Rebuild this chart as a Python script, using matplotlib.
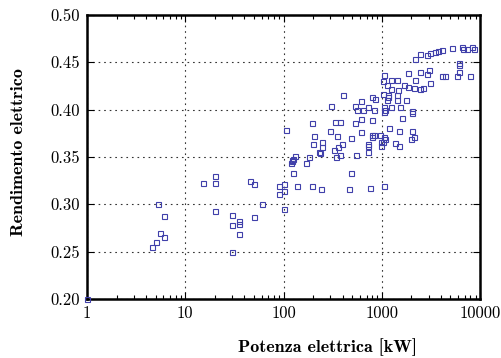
import matplotlib
matplotlib.use("Agg")
import matplotlib.pyplot as plt
from matplotlib.ticker import FixedLocator, FixedFormatter, LogLocator, NullFormatter

# Electrical power [kW] and electrical efficiency of the surveyed units
power_kw = [
    1.0,
    4.6, 5.0, 5.5, 6.1, 6.1, 5.3,
    15.3, 20, 20, 20,
    30, 30, 30, 35.5, 35.5, 35.5,
    45.6, 50, 50, 61,
    91, 91, 102, 102, 102, 105,
    119, 121, 123, 126, 126, 130, 137, 169, 181,
    194, 196, 201, 204, 232, 236, 241, 248, 248,
    300, 304, 329, 334, 342, 353, 361, 376, 376, 391, 407, 468, 486, 486,
    534, 534, 543, 565, 611, 611, 615, 640,
    730, 730, 730, 730, 760, 791, 791, 791, 802, 830, 839, 853,
    960, 980, 980,
    1040, 1040, 1040, 1055, 1055, 1055, 1055, 1060, 1085, 1085, 1120, 1120,
    1150, 1170, 1195,
    1230, 1232, 1243, 1370, 1420, 1420, 1437, 1470, 1500, 1500, 1530, 1620,
    1698, 1755, 1862, 1862,
    2000, 2050, 2050, 2050, 2130, 2130, 2180, 2180, 2450, 2450, 2450, 2600,
    2870, 2900, 3050, 3100, 3100, 3480, 3770, 4080, 4080, 4400, 5150, 5800,
    6150, 6150, 6150, 6510, 6760, 7330, 7900, 8240, 8690,
]
efficiency = [
    0.200,
    0.255, 0.260, 0.270, 0.265, 0.288, 0.300,
    0.323, 0.330, 0.323, 0.293,
    0.289, 0.278, 0.250, 0.282, 0.279, 0.269,
    0.325, 0.321, 0.287, 0.300,
    0.319, 0.311, 0.321, 0.314, 0.295, 0.378,
    0.344, 0.346, 0.347, 0.348, 0.333, 0.351, 0.319, 0.344, 0.350,
    0.319, 0.386, 0.364, 0.372, 0.355, 0.354, 0.316, 0.366, 0.361,
    0.377, 0.404, 0.357, 0.387, 0.350, 0.372, 0.361, 0.387, 0.352, 0.364, 0.415, 0.316, 0.370, 0.333,
    0.404, 0.386, 0.352, 0.400, 0.409, 0.390, 0.376, 0.400,
    0.403, 0.355, 0.364, 0.362, 0.317, 0.413, 0.373, 0.371, 0.389, 0.373, 0.400, 0.411,
    0.373, 0.366, 0.362,
    0.430, 0.417, 0.366, 0.437, 0.398, 0.371, 0.319, 0.403, 0.400, 0.369, 0.426, 0.410,
    0.416, 0.413, 0.381,
    0.403, 0.431, 0.422, 0.365, 0.416, 0.410, 0.431, 0.421, 0.377, 0.362, 0.403, 0.391,
    0.426, 0.410, 0.439, 0.424,
    0.369, 0.377, 0.399, 0.397, 0.423, 0.371, 0.431, 0.454, 0.459, 0.440, 0.422, 0.423,
    0.458, 0.438, 0.442, 0.460, 0.428, 0.461, 0.462, 0.463, 0.436, 0.436, 0.465, 0.436,
    0.440, 0.447, 0.449, 0.466, 0.464, 0.464, 0.436, 0.466, 0.464,
]

x_ticks = [1, 10, 100, 1000, 10000]
x_tick_labels = ["1", "10", "100", "1000", "10000"]
y_ticks = [0.20, 0.25, 0.30, 0.35, 0.40, 0.45, 0.50]
y_tick_labels = ["0.20", "0.25", "0.30", "0.35", "0.40", "0.45", "0.50"]

fig = plt.figure(figsize=(5.01, 3.58), dpi=100)
ax = fig.add_axes([87 / 501, 59 / 358, 393 / 501, 284 / 358])

ax.plot(power_kw, efficiency, linestyle="none", marker="s", markersize=3.6,
        markerfacecolor="none", markeredgecolor="#4040aa", markeredgewidth=0.8,
        clip_on=False, zorder=3)

ax.set_xscale("log")
ax.set_xlim(1, 10000)
ax.set_ylim(0.20, 0.50)

ax.xaxis.set_major_locator(FixedLocator(x_ticks))
ax.xaxis.set_major_formatter(FixedFormatter(x_tick_labels))
ax.xaxis.set_minor_locator(LogLocator(base=10, subs=range(2, 10)))
ax.xaxis.set_minor_formatter(NullFormatter())
ax.yaxis.set_major_locator(FixedLocator(y_ticks))
ax.yaxis.set_major_formatter(FixedFormatter(y_tick_labels))

ax.grid(True, which="major", color="#333333", linestyle=(0, (1.5, 3.5)), linewidth=0.8)
ax.set_axisbelow(True)

ax.tick_params(which="both", direction="in", top=True, right=True, width=0.8)
ax.tick_params(which="major", length=5, pad=5)
ax.tick_params(which="minor", length=3)
for side in ax.spines.values():
    side.set_linewidth(1.8)

for lab in ax.get_xticklabels() + ax.get_yticklabels():
    lab.set_fontfamily("cmr10")
    lab.set_fontsize(12)

fig.text(328 / 501, 1 - 347 / 358, "Potenza elettrica [kW]", family="cmb10",
         fontsize=13, ha="center", va="center")
fig.text(19 / 501, 1 - 152 / 358, "Rendimento elettrico", family="cmb10",
         fontsize=13, ha="center", va="center", rotation=90)

fig.savefig("out.png", dpi=100)
